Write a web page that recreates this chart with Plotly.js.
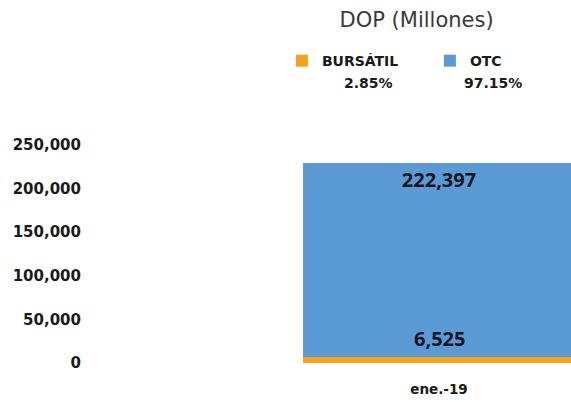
<!DOCTYPE html>
<html><head><meta charset="utf-8">
<script src="https://cdn.plot.ly/plotly-3.0.1.min.js"></script>
<style>html,body{margin:0;padding:0;background:#fff}#chart{width:571px;height:402px}</style>
</head><body><div id="chart"></div>
<script>
const categories = ['ene.-19'];
const bursatil = [6525];
const otc = [222397];
const seriesNames = ['BURSÁTIL', 'OTC'];
const seriesColors = ['#F5A31F', '#5B9BD5'];
const yTickVals = [0, 50000, 100000, 150000, 200000, 250000];
const yTickText = ['0', '50,000', '100,000', '150,000', '200,000', '250,000'];
const titleText = 'DOP (Millones)';

const fmt = v => v.toLocaleString('en-US');
const total = bursatil[0] + otc[0];
const pct = v => (v / total * 100).toFixed(2) + '%';

const traces = [
  {
    type: 'bar', name: '<b>' + seriesNames[0] + '</b>', x: categories, y: bursatil,
    marker: {color: seriesColors[0]}, width: 0.8, hoverinfo: 'skip'
  },
  {
    type: 'bar', name: '<b>' + seriesNames[1] + '</b>', x: categories, y: otc,
    marker: {color: seriesColors[1]}, width: 0.8,
    text: otc.map(v => '<b>' + fmt(v) + '</b>'), textposition: 'inside',
    insidetextanchor: 'end', textangle: 0,
    insidetextfont: {family: 'Open Sans', size: 20, color: '#141420'},
    hoverinfo: 'skip'
  }
];

const layout = {
  width: 571, height: 402,
  margin: {l: 90, r: 0, t: 145, b: 39, autoexpand: false},
  paper_bgcolor: '#fff', plot_bgcolor: '#fff',
  barmode: 'stack',
  title: {
    text: titleText, x: 0.679, xref: 'paper', xanchor: 'center',
    y: 0.95, yref: 'container', yanchor: 'middle',
    font: {family: 'DejaVu Sans', size: 21, color: '#3a3a3a'}
  },
  xaxis: {
    type: 'category', range: [-1.026, 0.388], showgrid: false, zeroline: false,
    showline: false, ticks: '', ticklabelstandoff: 16,
    tickfont: {family: 'DejaVu Sans', size: 13.5, color: '#1a1a1a', weight: 'bold'}
  },
  yaxis: {
    range: [0, 250000], tickvals: yTickVals, ticktext: yTickText,
    showgrid: false, zeroline: false, showline: false, ticks: '',
    ticklabelstandoff: 8,
    tickfont: {family: 'DejaVu Sans', size: 15, color: '#1a1a1a', weight: 'bold'}
  },
  showlegend: true,
  legend: {
    orientation: 'h', x: 0.399, xanchor: 'left', y: 1.385, yanchor: 'middle',
    entrywidth: 103, entrywidthmode: 'pixels', traceorder: 'normal',
    font: {family: 'DejaVu Sans', size: 14, color: '#1a1a1a'},
    bgcolor: 'rgba(0,0,0,0)'
  },
  annotations: [
    {
      x: categories[0], y: bursatil[0], xref: 'x', yref: 'y',
      text: '<b>' + fmt(bursatil[0]) + '</b>', showarrow: false,
      xanchor: 'center', yanchor: 'bottom', yshift: 3,
      font: {family: 'Open Sans', size: 20, color: '#141420'}
    },
    {
      x: 0.578, y: 1.284, xref: 'paper', yref: 'paper', showarrow: false,
      xanchor: 'center', yanchor: 'middle',
      text: '<b>' + pct(bursatil[0]) + '</b>',
      font: {family: 'DejaVu Sans', size: 14, color: '#1a1a1a'}
    },
    {
      x: 0.838, y: 1.284, xref: 'paper', yref: 'paper', showarrow: false,
      xanchor: 'center', yanchor: 'middle',
      text: '<b>' + pct(otc[0]) + '</b>',
      font: {family: 'DejaVu Sans', size: 14, color: '#1a1a1a'}
    }
  ]
};

Plotly.newPlot('chart', traces, layout, {displayModeBar: false, staticPlot: true});
</script>
</body></html>
